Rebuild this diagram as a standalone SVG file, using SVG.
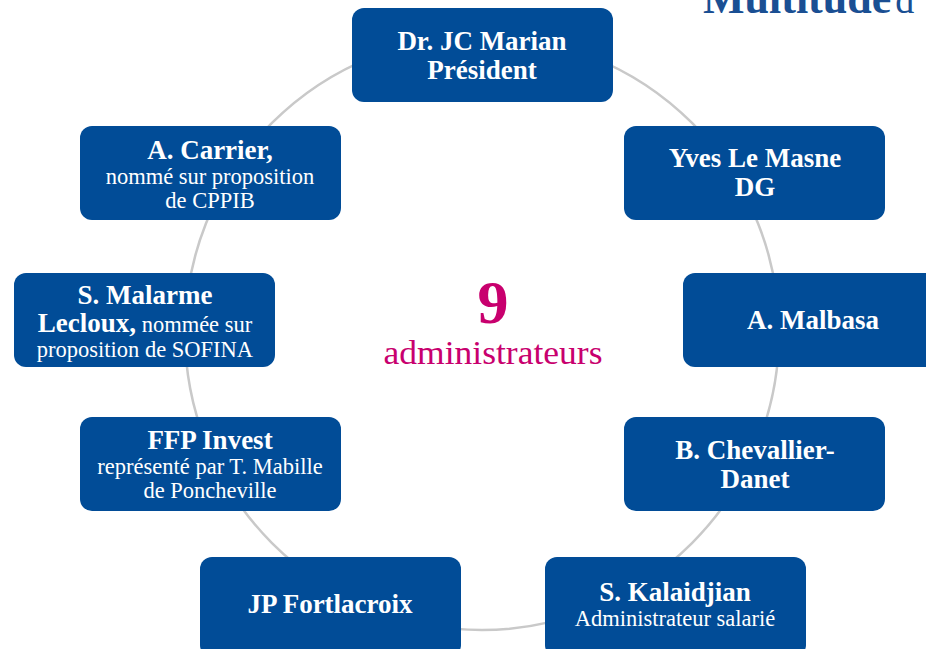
<svg xmlns="http://www.w3.org/2000/svg" width="926" height="649" viewBox="0 0 926 649">
<style>
.box{fill:#014C97;}
.t{font-family:"Liberation Serif","DejaVu Serif",serif;fill:#fff;text-anchor:middle;}
.b{font-weight:bold;font-size:27px;}
.s{font-size:22.5px;}
.ring{fill:none;stroke:#C9C9C9;stroke-width:2.5;}
</style>
<rect width="926" height="649" fill="#fff"/>
<text x="703" y="13" font-family="Liberation Serif, serif" font-weight="bold" font-size="44" fill="#1A4F93">Multitude<tspan font-weight="normal" font-size="38" dx="4">d</tspan></text>
<g id="connectors">
<circle class="ring" cx="482" cy="333" r="297"/>
</g>
<g id="n1"><rect class="box" x="352" y="8" width="261" height="94" rx="12"/>
<text class="t b" x="482" y="50">Dr. JC Marian</text><text class="t b" x="482" y="79">Président</text></g>
<g id="n2"><rect class="box" x="624" y="126" width="261" height="94" rx="12"/>
<text class="t b" x="755" y="167">Yves Le Masne</text><text class="t b" x="755" y="196">DG</text></g>
<g id="n3"><rect class="box" x="683" y="273" width="261" height="94" rx="12"/>
<text class="t b" x="813" y="329">A. Malbasa</text></g>
<g id="n4"><rect class="box" x="624" y="417" width="261" height="94" rx="12"/>
<text class="t b" x="755" y="459">B. Chevallier-</text><text class="t b" x="755" y="488">Danet</text></g>
<g id="n5"><rect class="box" x="545" y="557" width="261" height="100" rx="12"/>
<text class="t b" x="675" y="601">S. Kalaidjian</text><text class="t s" x="675" y="626">Administrateur salarié</text></g>
<g id="n6"><rect class="box" x="200" y="557" width="261" height="100" rx="12"/>
<text class="t b" x="330" y="613">JP Fortlacroix</text></g>
<g id="n7"><rect class="box" x="80" y="417" width="261" height="94" rx="12"/>
<text class="t b" x="210" y="449">FFP Invest</text><text class="t s" x="210" y="474">représenté par T. Mabille</text><text class="t s" x="210" y="498">de Poncheville</text></g>
<g id="n8"><rect class="box" x="14" y="273" width="261" height="94" rx="12"/>
<text class="t b" x="145" y="304">S. Malarme</text><text class="t" x="145" y="332"><tspan font-weight="bold" font-size="27">Lecloux,</tspan><tspan font-size="22.5"> nommée sur</tspan></text><text class="t s" x="145" y="357">proposition de SOFINA</text></g>
<g id="n9"><rect class="box" x="80" y="126" width="261" height="94" rx="12"/>
<text class="t b" x="210" y="159">A. Carrier,</text><text class="t s" x="210" y="184">nommé sur proposition</text><text class="t s" x="210" y="208">de CPPIB</text></g>
<g id="center">
<text x="493" y="323" font-family="Liberation Serif, serif" font-weight="bold" font-size="62" fill="#C8006E" text-anchor="middle">9</text>
<text x="493" y="364" font-family="Liberation Serif, serif" font-size="34" fill="#C8006E" text-anchor="middle" textLength="219" lengthAdjust="spacingAndGlyphs">administrateurs</text>
</g>
</svg>
